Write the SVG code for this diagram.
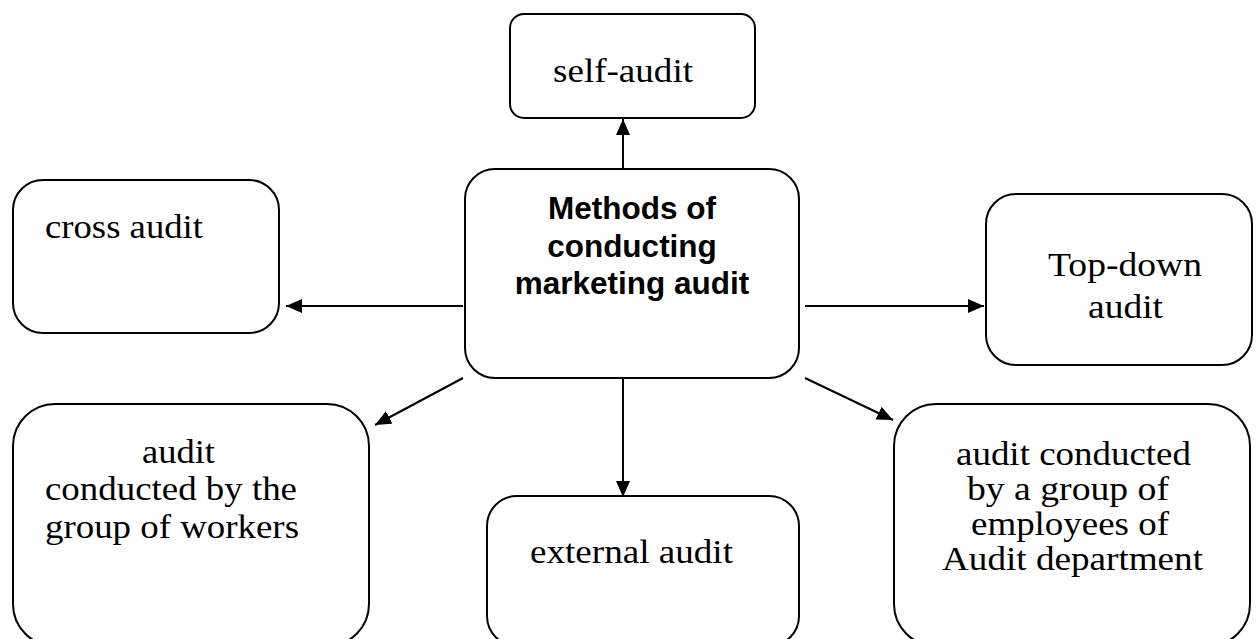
<svg xmlns="http://www.w3.org/2000/svg" width="1257" height="639" viewBox="0 0 1257 639">
<style>
.box{fill:#fff;stroke:#000;stroke-width:2}
.t{font-family:"Liberation Serif","Times New Roman",serif;font-size:34px;fill:#000}
.b{font-family:"Liberation Sans",Arial,sans-serif;font-size:31.5px;font-weight:bold;fill:#000;text-anchor:middle}
.c{stroke:#000;stroke-width:2;fill:none;marker-end:url(#ah)}
</style>
<defs>
<marker id="ah" markerUnits="userSpaceOnUse" markerWidth="18" markerHeight="16" refX="16" refY="7" orient="auto">
<path d="M0,0 L16,7 L0,14 Z" fill="#000"/>
</marker>
</defs>
<rect width="1257" height="639" fill="#fff"/>
<g id="connectors">
<line class="c" x1="623" y1="193" x2="623" y2="119"/>
<line class="c" x1="463" y1="306" x2="286" y2="306"/>
<line class="c" x1="805" y1="306" x2="984" y2="306"/>
<line class="c" x1="623" y1="378" x2="623" y2="497"/>
<line class="c" x1="463" y1="378" x2="375" y2="425"/>
<line class="c" x1="805" y1="378" x2="893" y2="420"/>
</g>
<g id="self-audit">
<rect class="box" x="510" y="14" width="245" height="104" rx="14"/>
<text class="t" x="553" y="82" textLength="140" lengthAdjust="spacingAndGlyphs">self-audit</text>
</g>
<g id="center">
<rect class="box" x="465" y="169" width="334" height="209" rx="30"/>
<text class="b" x="632" y="219">Methods of</text>
<text class="b" x="632" y="257">conducting</text>
<text class="b" x="632" y="294">marketing audit</text>
</g>
<g id="cross-audit">
<rect class="box" x="13" y="180" width="266" height="153" rx="30"/>
<text class="t" x="45" y="238" textLength="158" lengthAdjust="spacingAndGlyphs">cross audit</text>
</g>
<g id="top-down">
<rect class="box" x="986" y="194" width="266" height="171" rx="30"/>
<text class="t" x="1048" y="276" textLength="154" lengthAdjust="spacingAndGlyphs">Top-down</text>
<text class="t" x="1088" y="318" textLength="75" lengthAdjust="spacingAndGlyphs">audit</text>
</g>
<g id="workers">
<rect class="box" x="13" y="404" width="356" height="242" rx="42"/>
<text class="t" x="142" y="463" textLength="73" lengthAdjust="spacingAndGlyphs">audit</text>
<text class="t" x="45" y="500" textLength="252" lengthAdjust="spacingAndGlyphs">conducted by the</text>
<text class="t" x="45" y="538" textLength="254" lengthAdjust="spacingAndGlyphs">group of workers</text>
</g>
<g id="external">
<rect class="box" x="487" y="496" width="312" height="150" rx="30"/>
<text class="t" x="530" y="563" textLength="203" lengthAdjust="spacingAndGlyphs">external audit</text>
</g>
<g id="audit-dept">
<rect class="box" x="894" y="404" width="356" height="242" rx="42"/>
<text class="t" x="956" y="465" textLength="235" lengthAdjust="spacingAndGlyphs">audit conducted</text>
<text class="t" x="967" y="500" textLength="202" lengthAdjust="spacingAndGlyphs">by a group of</text>
<text class="t" x="971" y="535" textLength="198" lengthAdjust="spacingAndGlyphs">employees of</text>
<text class="t" x="942" y="570" textLength="261" lengthAdjust="spacingAndGlyphs">Audit department</text>
</g>
</svg>
